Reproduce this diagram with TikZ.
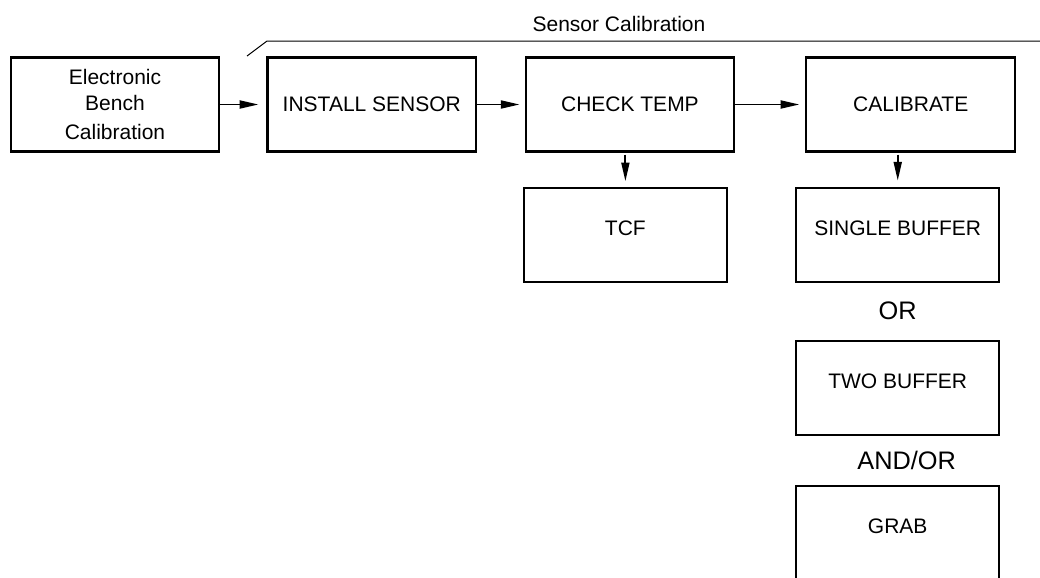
\documentclass[tikz,border=0pt]{standalone}
\usepackage{fontspec}
\setmainfont{Liberation Sans}
\usetikzlibrary{arrows.meta,positioning}
\tikzset{box/.style={draw,line width=1.6pt,minimum width=156.5pt,minimum height=70.5pt,
   inner sep=0pt,align=center,font=\fontsize{15.75}{19}\selectfont},
 sub/.style={box,minimum width=152pt,text depth=10pt},
 word/.style={font=\fontsize{19}{22}\selectfont},
 flow/.style={->,line width=1.4pt}}
\begin{document}
\begin{tikzpicture}[x=0.75pt,y=-0.75pt,>={Triangle[length=14pt,width=6pt]}]
\useasboundingbox (0,0) rectangle (1040,578);
% top row
\node[box] (bench) at (115,104.5) {Electronic\\Bench\\[3pt]Calibration};
\node[box,right=34.5pt of bench] (install) {INSTALL SENSOR};
\node[box,right=35.5pt of install] (check) {CHECK TEMP};
\node[box,right=52.5pt of check] (calib) {CALIBRATE};
% bracket over sensor calibration
\draw[line width=0.75pt] (247,56) -- (267,41) -- (1045,41);
\node[font=\fontsize{15.75}{19}\selectfont] (sensor) at (619,24) {Sensor Calibration};
% lower boxes
\node[sub,below=26pt of check,xshift=-3.4pt] (tcf) {TCF};
\node[sub,below=25.5pt of calib,xshift=-9.75pt] (single) {SINGLE BUFFER};
\node[sub,below=42.75pt of single] (two) {TWO BUFFER};
\node[sub,below=37pt of two] (grab) {GRAB};
\path (single) -- node[word] (or) {OR} (two);
\path (two) -- node[word,xshift=6.75pt] (andor) {AND/OR} (grab);
% arrows
\draw[flow,shorten >=6pt] (bench) -- (install);
\draw[flow,shorten >=3.75pt] (install) -- (check);
\draw[flow,shorten >=4.5pt] (check) -- (calib);
\draw[flow,shorten <=1.5pt,shorten >=4.5pt] (check.south -| tcf.north) -- (tcf.north);
\draw[flow,shorten <=1.5pt,shorten >=4.5pt] (calib.south -| single.north) -- (single.north);
\end{tikzpicture}
\end{document}
